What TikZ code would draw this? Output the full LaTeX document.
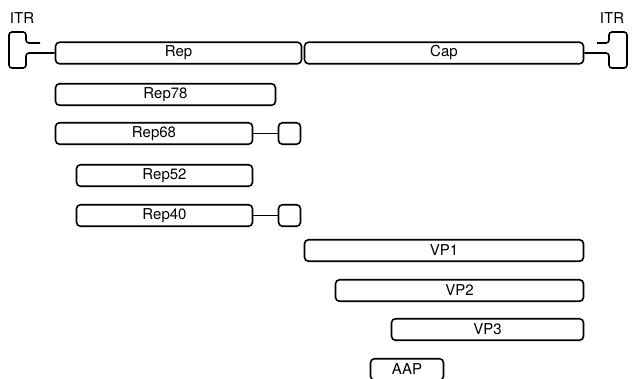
\documentclass[tikz,border=0pt]{standalone}
\usepackage{fontspec}
\setsansfont{TeX Gyre Heros}
\begin{document}
\begin{tikzpicture}[x=1pt, y=-1pt, line width=1.6pt,
  every node/.style={inner sep=1pt, font=\sffamily\fontsize{15}{17}\selectfont},
  gene/.style={draw, rounded corners=4pt, minimum height=21.5pt}]
  \clip (0,0) rectangle (632,378);
  % genome
  \node[gene, minimum width=246pt] (rep) at (178.5,53) {Rep};
  \node[gene, minimum width=279pt] (cap) at (444,53) {Cap};
  \node (itrl) at (22,18) {ITR};
  \node (itrr) at (612,18) {ITR};
  \coordinate (stubl) at (40,43);
  \coordinate (stubr) at (597,43);
  \draw[rounded corners=3pt] (stubl) -- (26,43) -- (26,32) -- (9,32) -- (9,68) -- (26,68) -- (26,53) -- (rep.west);
  \draw[rounded corners=3pt] (stubr) -- (609,43) -- (609,32) -- (627,32) -- (627,68) -- (609,68) -- (609,53) -- (cap.east);
  % rep proteins
  \node[gene, minimum width=220pt] (rep78) at (165.5,94.5) {Rep78};
  \node[gene, minimum width=197pt] (rep68) at (154,133.5) {Rep68};
  \node[gene, minimum width=22pt] (rep68d) at (289.5,133.5) {};
  \node[gene, minimum width=176pt] (rep52) at (164.5,175.5) {Rep52};
  \node[gene, minimum width=176pt] (rep40) at (164.5,215.5) {Rep40};
  \node[gene, minimum width=22pt] (rep40d) at (289.5,215.5) {};
  \draw (rep68.east) -- (rep68d.west);
  \draw (rep40.east) -- (rep40d.west);
  % cap proteins
  \node[gene, minimum width=279pt] (vp1) at (444,250.5) {VP1};
  \node[gene, minimum width=248pt] (vp2) at (459.5,290.5) {VP2};
  \node[gene, minimum width=192pt] (vp3) at (487.5,329.5) {VP3};
  \node[gene, minimum width=73pt] (aap) at (407,369.5) {AAP};
\end{tikzpicture}
\end{document}
